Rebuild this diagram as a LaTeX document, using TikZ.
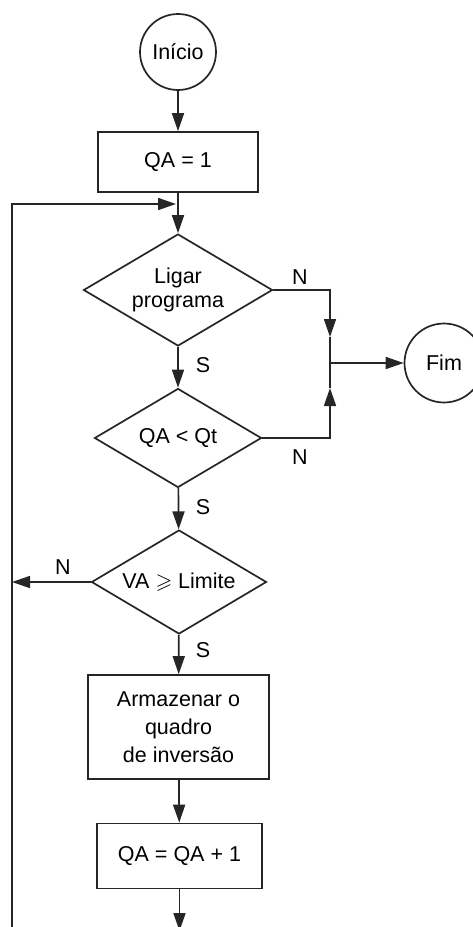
\documentclass[tikz,border=0pt]{standalone}
\usepackage{amssymb}
\usepackage{fontspec}
\setmainfont{Liberation Sans}
\usetikzlibrary{shapes.geometric,arrows.meta}
\begin{document}
\begin{tikzpicture}[x=1pt,y=-1pt,
  every node/.style={font=\fontsize{21.5}{24}\selectfont},
  ln/.style={line width=1.7pt,draw=black!85},
  arr/.style={ln,-{Triangle[length=18pt,width=12pt]}},
  term/.style={circle,ln,inner sep=0pt,minimum size=#1},
  proc/.style={rectangle,ln,inner sep=0pt,align=center},
  dec/.style={diamond,ln,inner sep=0pt,aspect=1.7,align=center},
  lbl/.style={inner sep=0pt}]
\clip (0,0) rectangle (473,927);
\fill[white] (0,0) rectangle (473,927);
% nodes
\node[term=76pt] (ini) at (178,52) {Início};
\node[proc,minimum width=160pt,minimum height=60pt] (r1) at (178,162) {QA = 1};
\node[dec,minimum width=189pt,minimum height=112pt] (d1) at (178,290) {Ligar\\programa};
\node[dec,minimum width=167pt,minimum height=99pt] (d2) at (178,438) {QA < Qt};
\node[dec,minimum width=175pt,minimum height=104pt] (d3) at (179,582) {VA $\geqslant$ Limite};
\node[proc,minimum width=181pt,minimum height=104pt,font=\fontsize{21.5}{28}\selectfont] (r2) at (178.5,727) {Armazenar o\\quadro\\de inversão};
\node[proc,minimum width=165pt,minimum height=65pt] (r3) at (179.5,856) {QA = QA + 1};
\node[term=79pt] (fim) at (444,363) {Fim};
% labels
\node[lbl] (n1) at (300,277) {N};
\node[lbl] (n2) at (300,457) {N};
\node[lbl] (n3) at (63,567) {N};
\node[lbl] (s1) at (203,365) {S};
\node[lbl] (s2) at (203,507) {S};
\node[lbl] (s3) at (203,650) {S};
% coordinates
\coordinate (j) at (330,363);
\coordinate (ja) at (330,337);
\coordinate (jb) at (330,388);
\coordinate (lb) at (12,935);
\coordinate (lt) at (12,204);
\coordinate (tip) at (176,204);
\coordinate (lm) at (12,582);
\coordinate (bot) at (179.5,931);
% connectors
\draw[arr] (ini) -- (r1);
\draw[arr] (r1) -- (d1);
\draw[arr] (d1) -- (d2);
\draw[arr] (d2) -- (d3);
\draw[arr] (d3) -- (r2);
\draw[arr] (r2) -- (r3);
\draw[arr] (r3) -- (bot);
\draw[arr] (d1.east) -| (ja);
\draw[ln] (ja) -- (j);
\draw[arr] (d2.east) -| (jb);
\draw[ln] (jb) -- (j);
\draw[arr] (j) -- (fim);
\draw[arr] (d3.west) -- (lm);
\draw[arr] (lb) -- (lt) -- (tip);
\end{tikzpicture}
\end{document}
